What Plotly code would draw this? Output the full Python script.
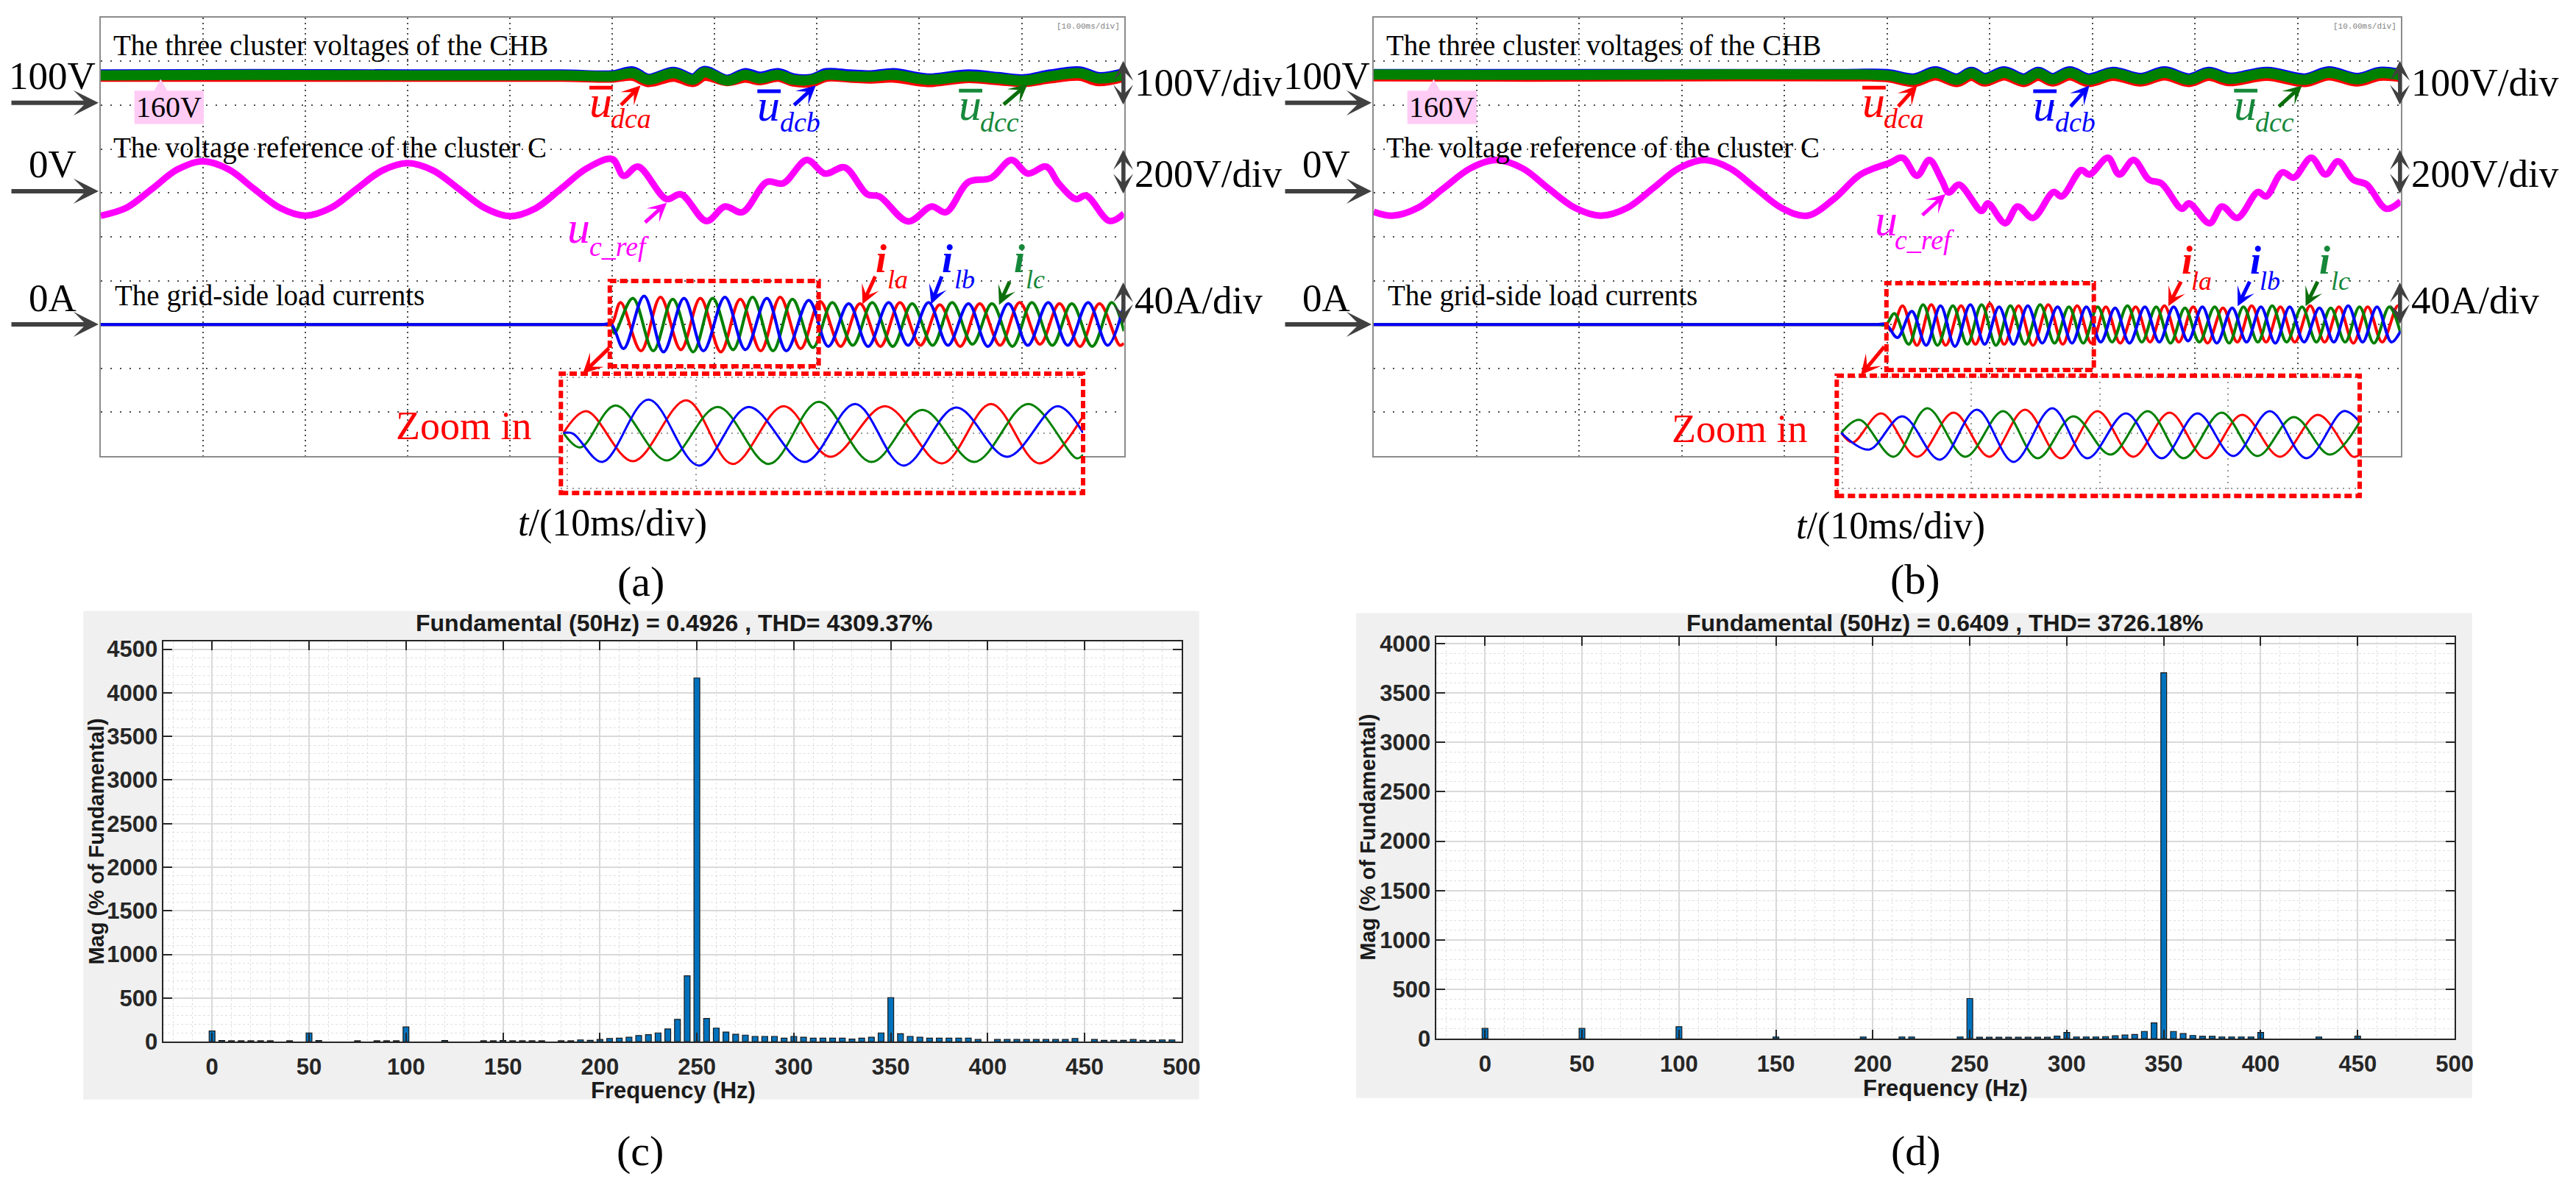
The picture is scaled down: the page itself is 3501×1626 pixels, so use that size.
import plotly.graph_objects as go

W, H = 3501, 1626
SERIF = "Liberation Serif"
SANS = "Liberation Sans"
RED, GREEN, BLUE, MAGENTA = "#ff0000", "#008000", "#0000ff", "#ff00ff"
LBLGREEN, DKGREEN, ARROWGREY = "#16883a", "#0a6e0a", "#404040"

# oscilloscope channels: level of the marker arrow (div) and units per div
UDC_MARK, UDC_DIV = 8.05, 100.0     # marker = 100 V, 100 V/div
UREF_MARK, UREF_DIV = 6.06, 200.0   # marker = 0 V, 200 V/div
I_MARK, I_DIV = 3.0, 40.0           # marker = 0 A, 40 A/div

# ---------------- (a) scope, time in div (10 ms/div) ----------------
udc_t_a = [0, 1.5, 3.0, 4.5, 5.00, 5.20, 5.35, 5.60, 5.79, 5.90, 6.12, 6.30, 6.44, 6.62,
           6.77, 6.95, 7.09, 7.32, 7.53, 7.75, 8.08, 8.48, 8.77, 9.02, 9.28, 9.57, 9.75, 10.0]
udca_a = [160, 160, 160, 160, 158, 162, 148, 160, 148, 162, 150, 158, 152, 160,
          149, 148, 160, 158, 156, 158, 148, 157, 152, 148, 156, 162, 150, 160]
udcb_a = [165, 166, 165, 165, 163, 172, 155, 171, 156, 173, 153, 168, 160, 168,
          156, 155, 168, 165, 163, 168, 156, 165, 159, 154, 165, 172, 159, 168]
udcc_a = [163, 164, 163, 163, 161, 168, 153, 168, 153, 170, 151, 164, 156, 164,
          153, 153, 164, 161, 160, 164, 153, 161, 156, 151, 161, 168, 156, 164]
uref_a = [(0, -116), (0.25, -80), (0.5, 6), (0.75, 95), (1.0, 132), (1.25, 95), (1.5, 6),
          (1.75, -80), (2.0, -116), (2.25, -80), (2.5, 6), (2.75, 90), (3.0, 124), (3.25, 90),
          (3.5, 6), (3.75, -80), (4.0, -118), (4.25, -82), (4.5, 8), (4.75, 100), (5.0, 142),
          (5.11, 66), (5.25, 108), (5.53, -40), (5.67, -18), (5.92, -140), (6.10, -74),
          (6.27, -100), (6.51, 38), (6.67, 32), (6.90, 138), (7.08, 76), (7.27, 104),
          (7.49, -18), (7.61, -28), (7.89, -142), (8.12, -74), (8.26, -100), (8.48, 38),
          (8.70, 56), (8.90, 138), (9.06, 76), (9.24, 108), (9.36, 32), (9.53, -40),
          (9.63, -24), (9.86, -140), (10.0, -106)]
ila_a = [(0, 0), (1, 0), (2, 0), (3, 0), (4, 0), (4.9, 0), (4.99, 0), (5.08, 20), (5.28, -24),
         (5.47, 25), (5.67, -23), (5.86, 24), (6.06, -25), (6.25, 23), (6.45, -24), (6.64, 25),
         (6.84, -22), (7.03, 21), (7.23, -20), (7.42, 19), (7.62, -20), (7.81, 20), (8.01, -19),
         (8.20, 18), (8.40, -20), (8.59, 19), (8.79, -19), (8.98, 20), (9.18, -18), (9.37, 19),
         (9.57, -20), (9.76, 19), (9.96, -19), (10.0, -17)]
ilb_a = [(0, 0), (1, 0), (2, 0), (3, 0), (4, 0), (4.9, 0), (4.99, 0), (5.11, -22), (5.31, 26),
         (5.50, -25), (5.70, 24), (5.89, -24), (6.10, 25), (6.30, -23), (6.51, 24), (6.70, -24),
         (6.92, 22), (7.11, -20), (7.31, 19), (7.50, -20), (7.70, 20), (7.89, -19), (8.09, 20),
         (8.28, -19), (8.48, 19), (8.67, -20), (8.87, 19), (9.06, -19), (9.26, 20), (9.45, -19),
         (9.65, 20), (9.84, -19), (10.0, 18)]
ilc_a = [(0, 0), (1, 0), (2, 0), (3, 0), (4, 0), (4.9, 0), (4.99, 0), (5.02, -8), (5.20, 24),
         (5.40, -24), (5.59, 23), (5.79, -25), (5.98, 24), (6.18, -23), (6.37, 25), (6.57, -24),
         (6.76, 23), (6.96, -21), (7.15, 20), (7.35, -19), (7.54, 20), (7.74, -20), (7.93, 19),
         (8.13, -19), (8.32, 20), (8.52, -18), (8.71, 19), (8.91, -20), (9.10, 20), (9.30, -19),
         (9.49, 19), (9.69, -20), (9.88, 20), (10.0, -6)]
# zoomed window of (a): time in zoom div (5 ms/div), current in A
zla_a = [(-0.03, 0), (0.148, 15.6), (0.511, -20.3), (0.926, 23.4), (1.284, -22.3), (1.682, 19.2),
         (2.045, -17.1), (2.472, 19.2), (2.915, -21.8), (3.295, 20.8), (3.670, -21.8), (4.011, 12.0)]
zlb_a = [(-0.03, 0), (0.045, -0.5), (0.273, -20.8), (0.631, 23.9), (1.023, -23.4), (1.409, 18.7),
         (1.847, -20.8), (2.239, 20.8), (2.614, -23.4), (3.023, 18.2), (3.420, -17.1),
         (3.813, 19.2), (4.011, 0.0)]
zlc_a = [(-0.03, 0), (0.102, -10.4), (0.375, 19.7), (0.773, -19.7), (1.170, 18.7), (1.568, -22.3),
         (1.955, 22.3), (2.364, -20.8), (2.761, 16.6), (3.165, -20.8), (3.585, 20.8),
         (3.960, -18.2), (4.011, -15.6)]

# ---------------- (b) scope ----------------
udc_t_b = [0, 1.5, 3.0, 4.6, 5.00, 5.26, 5.47, 5.68, 5.82, 5.95, 6.14, 6.33, 6.47, 6.61,
           6.78, 6.96, 7.20, 7.47, 7.70, 7.94, 8.13, 8.33, 8.70, 9.07, 9.30, 9.58, 9.80, 10.0]
udca_b = [161, 160, 161, 161, 159, 148, 163, 148, 162, 149, 163, 148, 162, 149,
          163, 148, 162, 149, 163, 148, 162, 150, 162, 148, 163, 149, 162, 159]
udcb_b = [166, 166, 166, 166, 166, 156, 172, 156, 171, 157, 172, 156, 171, 157,
          172, 156, 171, 157, 172, 156, 171, 158, 171, 156, 172, 157, 171, 166]
udcc_b = [165, 164, 165, 165, 163, 153, 169, 153, 168, 154, 169, 153, 168, 154,
          169, 153, 168, 154, 169, 153, 168, 155, 168, 153, 169, 154, 168, 163]
uref_b = [(0, -98), (0.18, -116), (0.43, -80), (0.68, 9), (0.94, 100), (1.19, 138), (1.45, 100),
          (1.70, 9), (1.96, -80), (2.21, -116), (2.47, -80), (2.72, 9), (2.97, 100), (3.22, 138),
          (3.47, 100), (3.72, 9), (3.97, -80), (4.22, -116), (4.48, -40), (4.74, 72), (5.02, 124),
          (5.15, 148), (5.29, 66), (5.41, 138), (5.53, 48), (5.60, -10), (5.70, 26), (5.92, -94),
          (5.98, -60), (6.15, -150), (6.27, -74), (6.42, -126), (6.62, -8), (6.70, -28),
          (6.89, 92), (6.97, 72), (7.15, 148), (7.26, 72), (7.40, 138), (7.55, 48), (7.67, 32),
          (7.87, -84), (7.94, -60), (8.14, -150), (8.26, -74), (8.41, -126), (8.61, -8),
          (8.69, -28), (8.85, 82), (8.96, 58), (9.13, 148), (9.27, 72), (9.39, 132), (9.54, 48),
          (9.67, 26), (9.86, -84), (10.0, -50)]
ila_b = [(0, 0), (1, 0), (2, 0), (3, 0), (4, 0), (4.9, 0), (4.99, 0), (5.04, -6), (5.15, 17),
         (5.29, -19), (5.43, 18), (5.57, -19), (5.72, 17), (5.86, -18), (6.00, 19), (6.14, -18),
         (6.28, 17), (6.42, -19), (6.57, 18), (6.71, -18), (6.85, 17), (6.99, -17), (7.13, 16),
         (7.27, -17), (7.42, 16), (7.56, -16), (7.70, 17), (7.84, -16), (7.98, 16), (8.12, -17),
         (8.27, 15), (8.41, -16), (8.55, 17), (8.69, -16), (8.83, 16), (8.97, -16), (9.12, 17),
         (9.26, -16), (9.40, 16), (9.54, -17), (9.68, 16), (9.82, -16), (9.97, 17), (10.0, 15)]
ilb_b = [(0, 0), (1, 0), (2, 0), (3, 0), (4, 0), (4.9, 0), (4.99, 0), (5.10, -12), (5.24, 12),
         (5.38, -19), (5.52, 17), (5.66, -20), (5.81, 18), (5.95, -18), (6.09, 16), (6.23, -18),
         (6.37, 17), (6.51, -17), (6.66, 16), (6.80, -17), (6.94, 16), (7.08, -16), (7.22, 15),
         (7.36, -17), (7.51, 16), (7.65, -16), (7.79, 16), (7.93, -15), (8.07, 16), (8.21, -17),
         (8.36, 15), (8.50, -16), (8.64, 16), (8.78, -17), (8.92, 16), (9.06, -16), (9.21, 15),
         (9.35, -16), (9.49, 17), (9.63, -16), (9.77, 16), (9.91, -16), (10.0, -6)]
ilc_b = [(0, 0), (1, 0), (2, 0), (3, 0), (4, 0), (4.9, 0), (4.99, 0), (5.07, 10), (5.21, -18),
         (5.35, 18), (5.49, -19), (5.64, 17), (5.78, -18), (5.92, 18), (6.06, -19), (6.20, 17),
         (6.34, -18), (6.49, 18), (6.63, -17), (6.77, 16), (6.91, -17), (7.05, 16), (7.19, -16),
         (7.34, 17), (7.48, -16), (7.62, 16), (7.76, -17), (7.90, 15), (8.04, -16), (8.19, 16),
         (8.33, -17), (8.47, 16), (8.61, -16), (8.75, 17), (8.89, -16), (9.04, 16), (9.18, -16),
         (9.32, 15), (9.46, -16), (9.60, 16), (9.74, -17), (9.89, 16), (10.0, -8)]
zla_b = [(-0.01, 0), (0.080, -6.8), (0.301, 14.0), (0.580, -17.1), (0.864, 14.5), (1.142, -17.1),
         (1.420, 16.6), (1.699, -18.2), (1.983, 15.6), (2.261, -17.1), (2.545, 14.5),
         (2.824, -18.2), (3.108, 13.0), (3.403, -17.1), (3.699, 13.0), (3.972, -17.1), (4.023, -15.6)]
zlb_b = [(-0.01, 0), (0.205, -12.0), (0.466, 11.9), (0.756, -19.2), (1.045, 16.6), (1.330, -20.8),
         (1.631, 17.7), (1.903, -18.2), (2.205, 14.0), (2.483, -18.2), (2.761, 14.0),
         (3.040, -16.6), (3.324, 15.6), (3.608, -18.2), (3.898, 15.6), (4.023, 7.8)]
zlc_b = [(-0.01, 0), (0.131, 9.4), (0.398, -17.1), (0.659, 17.7), (0.955, -17.1), (1.250, 15.6),
         (1.517, -18.2), (1.795, 11.9), (2.085, -15.6), (2.375, 15.6), (2.653, -18.2),
         (2.949, 14.5), (3.227, -16.6), (3.511, 11.4), (3.790, -15.6), (4.023, 7.8)]

# ---------------- (c), (d) FFT spectra: (Hz, % of fundamental) ----------------
fft_c = [(0, 122), (5, 12), (10, 10), (15, 10), (20, 10), (25, 10), (30, 10), (40, 10), (50, 100),
         (55, 12), (75, 10), (85, 10), (90, 10), (95, 10), (100, 168), (120, 12), (140, 10),
         (145, 10), (150, 12), (155, 10), (160, 10), (165, 10), (170, 10), (180, 10), (185, 10),
         (190, 20), (195, 15), (200, 25), (205, 35), (210, 40), (215, 50), (220, 70), (225, 80),
         (230, 100), (235, 145), (240, 255), (245, 755), (250, 4170), (255, 265), (260, 155),
         (265, 110), (270, 85), (275, 75), (280, 60), (285, 60), (290, 60), (295, 40), (300, 60),
         (305, 50), (310, 40), (315, 40), (320, 40), (325, 40), (330, 30), (335, 40), (340, 50),
         (345, 100), (350, 505), (355, 90), (360, 60), (365, 50), (370, 40), (375, 40), (380, 40),
         (385, 40), (390, 40), (395, 25), (405, 25), (410, 25), (415, 25), (420, 25), (425, 25),
         (430, 25), (435, 25), (440, 25), (445, 35), (455, 25), (460, 15), (465, 15), (470, 15),
         (475, 25), (480, 15), (485, 15), (490, 20), (495, 20)]
fft_d = [(0, 104), (50, 104), (100, 122), (150, 18), (195, 18), (215, 18), (220, 18), (245, 18),
         (250, 407), (255, 15), (260, 15), (265, 15), (270, 15), (275, 15), (280, 15), (285, 15),
         (290, 15), (295, 26), (300, 63), (305, 18), (310, 18), (315, 18), (320, 22), (325, 30),
         (330, 37), (335, 44), (340, 74), (345, 160), (350, 3704), (355, 74), (360, 52), (365, 33),
         (370, 25), (375, 25), (380, 18), (385, 18), (390, 18), (395, 18), (400, 63), (430, 18),
         (450, 26)]
title_c = "Fundamental (50Hz) = 0.4926 , THD= 4309.37%"
title_d = "Fundamental (50Hz) = 0.6409 , THD= 3726.18%"


def unzip(pairs):
    return [p[0] for p in pairs], [p[1] for p in pairs]


fig = go.Figure()
ann = []
shapes = []


def P(x, y):
    return x / W, 1 - y / H


def text(x, y, s, size, color="black", xa="center", fam=SERIF, angle=0):
    px, py = P(x, y)
    ann.append(dict(x=px, y=py, xref="paper", yref="paper", text=s, showarrow=False,
                    xanchor=xa, yanchor="middle", textangle=angle,
                    font=dict(family=fam, size=size, color=color)))


def base_text(x, base, s, size, color):
    text(x, base - 0.3375 * size, s, size, color, xa="left")


def arrow(x0, y0, x1, y1, color, width=5, size=0.8, both=False):
    px, py = P(x1, y1)
    ann.append(dict(x=px, y=py, xref="paper", yref="paper", ax=x0 - x1, ay=y0 - y1,
                    axref="pixel", ayref="pixel", text="", showarrow=True, arrowhead=3,
                    arrowsize=size, arrowwidth=width, arrowcolor=color,
                    startarrowhead=3, startarrowsize=size,
                    arrowside="end+start" if both else "end"))


def line(x0, y0, x1, y1, color, width):
    a, b = P(x0, y0)
    c, d = P(x1, y1)
    shapes.append(dict(type="line", xref="paper", yref="paper", x0=a, y0=b, x1=c, y1=d,
                       line=dict(color=color, width=width), layer="above"))


def rect(x0, y0, x1, y1, fill=None, dash=None, layer="above", lw=0, lc=None):
    a, b = P(x0, y1)
    c, d = P(x1, y0)
    s = dict(type="rect", xref="paper", yref="paper", x0=a, y0=b, x1=c, y1=d, layer=layer,
             line=dict(width=lw, color=lc or "rgba(0,0,0,0)"))
    if fill:
        s["fillcolor"] = fill
    if dash:
        s["line"]["dash"] = dash
    shapes.append(s)


def scope_traces(xa, ya, t, ua, ub, uc, uref, ia, ib, ic):
    for vals, col in ((ua, RED), (ub, BLUE), (uc, GREEN)):
        fig.add_trace(go.Scatter(x=t, y=[UDC_MARK + (v - 100) / UDC_DIV for v in vals],
                                 mode="lines", line=dict(color=col, width=14, shape="spline"),
                                 xaxis=xa, yaxis=ya))
    tt, vv = unzip(uref)
    fig.add_trace(go.Scatter(x=tt, y=[UREF_MARK + v / UREF_DIV for v in vv], mode="lines",
                             line=dict(color=MAGENTA, width=9, shape="spline"),
                             xaxis=xa, yaxis=ya))
    for pairs, col in ((ia, RED), (ic, GREEN), (ib, BLUE)):
        tt, vv = unzip(pairs)
        fig.add_trace(go.Scatter(x=tt, y=[I_MARK + v / I_DIV for v in vv], mode="lines",
                                 line=dict(color=col, width=4, shape="spline"),
                                 xaxis=xa, yaxis=ya))


def zoom_traces(xa, ya, za, zb, zc):
    for pairs, col in ((za, RED), (zc, GREEN), (zb, BLUE)):
        tt, vv = unzip(pairs)
        fig.add_trace(go.Scatter(x=tt, y=vv, mode="lines",
                                 line=dict(color=col, width=3, shape="spline"),
                                 xaxis=xa, yaxis=ya))


scope_traces("x", "y", udc_t_a, udca_a, udcb_a, udcc_a, uref_a, ila_a, ilb_a, ilc_a)
scope_traces("x2", "y2", udc_t_b, udca_b, udcb_b, udcc_b, uref_b, ila_b, ilb_b, ilc_b)
zoom_traces("x3", "y3", zla_a, zlb_a, zlc_a)
zoom_traces("x4", "y4", zla_b, zlb_b, zlc_b)

for pairs, xa, ya in ((fft_c, "x5", "y5"), (fft_d, "x6", "y6")):
    hz, mag = unzip(pairs)
    fig.add_trace(go.Bar(x=hz, y=mag, width=3, xaxis=xa, yaxis=ya,
                         marker=dict(color="#0072bd", line=dict(color="#1a1a1a", width=1.2))))

# ---------------- axes ----------------
layout = {}


def dom(x0, x1, y0, y1):
    return [x0 / W, x1 / W], [1 - y1 / H, 1 - y0 / H]


def scope_axes(n, x0, x1):
    xd, yd = dom(x0, x1, 16, 622)
    sfx = "" if n == 1 else str(n)
    common = dict(range=[0, 10], tickvals=list(range(1, 10)), showticklabels=False, ticks="",
                  showgrid=True, gridcolor="#4d4d4d", gridwidth=2, zeroline=False,
                  showline=True, mirror=True, linecolor="#8c8c8c", linewidth=2)
    layout["xaxis" + sfx] = dict(domain=xd, anchor="y" + sfx, griddash="2px,5px", **common)
    layout["yaxis" + sfx] = dict(domain=yd, anchor="x" + sfx, griddash="2px,11px", **common)


def zoom_axes(n, x0, x1, y0, y1, xr, yr):
    xd, yd = dom(x0, x1, y0, y1)
    sfx = str(n)
    common = dict(showticklabels=False, ticks="", showgrid=True, gridcolor="#9a9a9a",
                  gridwidth=1.5, griddash="2px,6px", zeroline=False, showline=False)
    layout["xaxis" + sfx] = dict(domain=xd, anchor="y" + sfx, range=xr, tickvals=[0, 1, 2, 3],
                                 **common)
    layout["yaxis" + sfx] = dict(domain=yd, anchor="x" + sfx, range=yr, tickvals=[-40, 0, 40],
                                 **common)
    shapes.append(dict(type="rect", xref="x" + sfx, yref="y" + sfx, x0=xr[0], x1=xr[1],
                       y0=yr[0], y1=yr[1], fillcolor="white", line=dict(width=0),
                       layer="below"))


def fft_axes(n, x0, x1, y0, y1, ytop, ymax):
    xd, yd = dom(x0, x1, y0, y1)
    sfx = str(n)
    font = dict(family=SANS, size=31, color="#262626", weight="bold")
    common = dict(ticks="inside", ticklen=12, tickwidth=2, tickcolor="#262626",
                  showline=True, mirror="ticks", linecolor="#262626", linewidth=2,
                  showgrid=True, gridcolor="#d9d9d9", gridwidth=2, zeroline=False,
                  tickfont=font)
    layout["xaxis" + sfx] = dict(domain=xd, anchor="y" + sfx, range=[-25, 500],
                                 tickvals=list(range(0, 501, 50)), ticklabelstandoff=6,
                                 minor=dict(tick0=0, dtick=10, showgrid=True, gridcolor="#e0e0e0",
                                            griddash="dot", gridwidth=1),
                                 **common)
    layout["yaxis" + sfx] = dict(domain=yd, anchor="x" + sfx, range=[0, ytop],
                                 tickvals=list(range(0, ymax + 1, 500)),
                                 minor=dict(tick0=0, dtick=100, showgrid=True, gridcolor="#e0e0e0",
                                            griddash="dot", gridwidth=1),
                                 **common)


scope_axes(1, 138, 1539)
scope_axes(2, 1881, 3287)
zoom_axes(3, 768, 1483, 508, 673, [-0.05, 4.011], [-43.1, 42.6])
zoom_axes(4, 2515, 3231, 511, 677, [-0.045, 4.023], [-45.2, 41.0])
fft_axes(5, 224, 1618, 878, 1431, 4590, 4500)
fft_axes(6, 1967, 3361, 872, 1427, 4066, 4000)

# ---------------- scope decorations ----------------
def scope_labels(bx0, bx1, lc, rl, labels):
    text(bx0 + 15, 55, "The three cluster voltages of the CHB", 39, xa="left")
    text(bx0 + 15, 196, "The voltage reference of the cluster C", 39, xa="left")
    text(bx0 + 17, 400, "The grid-side load currents", 39, xa="left")
    text(bx1 - 4, 28, "[10.00ms/div]", 11, "#7f7f7f", xa="right", fam="Liberation Mono")
    # channel markers on the left
    for s, ty, ay in (("100V", 97, 134), ("0V", 218, 256), ("0A", 403, 440)):
        text(lc, ty, s, 53)
        arrow(lc - 57, ay, bx0 - 3, ay, ARROWGREY, width=6, size=0.95)
    # scale bars on the right
    for s, ty, y0, y1 in (("100V/div", 106, 76, 137), ("200V/div", 232, 199, 260),
                          ("40A/div", 407, 382, 440)):
        text(rl, ty, s, 53, xa="left")
        arrow(bx1 - 1, y1, bx1 - 1, y0, ARROWGREY, width=5, size=0.9, both=True)
    # 160 V callout
    rect(bx0 + 46, 117, bx0 + 141, 163, fill="#ffccf5")
    a, b = P(bx0 + 73, 117)
    c, d = P(bx0 + 82, 101)
    e, f = P(bx0 + 91, 117)
    shapes.append(dict(type="path", xref="paper", yref="paper",
                       path=f"M {a},{b} L {c},{d} L {e},{f} Z", fillcolor="#ffccf5",
                       line=dict(width=0), layer="above"))
    text(bx0 + 93, 140, "160V", 40)
    for kind, x, base, sx, sbase, sub, col, acol, tail, head in labels:
        if kind == "u":
            line(x + 2, base - 40, x + 34, base - 40, col, 5)
            base_text(x, base, "<i>u</i>", 62, col)
            base_text(sx, sbase, f"<i>{sub}</i>", 38, col)
        elif kind == "r":
            base_text(x, base, "<i>u</i>", 62, col)
            base_text(sx, sbase, f"<i>{sub}</i>", 38, col)
        else:
            base_text(x, base, "<b><i>i</i></b>", 54, col)
            base_text(sx, sbase, f"<i>{sub}</i>", 36, col)
        arrow(tail[0], tail[1], head[0], head[1], acol, width=5, size=0.85)


labels_a = [
    ("u", 805, 153, 834, 168, "dca", RED, RED, (849, 138), (877, 110)),
    ("u", 1035, 158, 1066, 173, "dcb", BLUE, BLUE, (1086, 138), (1117, 110)),
    ("u", 1311, 157, 1340, 173, "dcc", LBLGREEN, DKGREEN, (1373, 137), (1407, 108)),
    ("r", 775, 327, 805, 345, "c_ref", MAGENTA, MAGENTA, (882, 300), (913, 272)),
    ("i", 1197, 368, 1213, 390, "la", RED, RED, (1199, 373), (1181, 412)),
    ("i", 1288, 368, 1305, 390, "lb", BLUE, BLUE, (1290, 373), (1275, 412)),
    ("i", 1386, 368, 1402, 390, "lc", LBLGREEN, DKGREEN, (1383, 380), (1368, 413)),
]
labels_b = [
    ("u", 2548, 153, 2577, 168, "dca", RED, RED, (2598, 140), (2625, 110)),
    ("u", 2782, 158, 2812, 173, "dcb", BLUE, BLUE, (2834, 140), (2861, 110)),
    ("u", 3057, 157, 3086, 173, "dcc", LBLGREEN, DKGREEN, (3119, 140), (3152, 110)),
    ("r", 2565, 317, 2592, 336, "c_ref", MAGENTA, MAGENTA, (2631, 290), (2664, 260)),
    ("i", 2985, 370, 2998, 392, "la", RED, RED, (2987, 380), (2969, 415)),
    ("i", 3079, 370, 3092, 392, "lb", BLUE, BLUE, (3081, 380), (3064, 415)),
    ("i", 3174, 370, 3190, 392, "lc", LBLGREEN, DKGREEN, (3174, 380), (3157, 415)),
]
scope_labels(138, 1539, 72, 1552, labels_a)
scope_labels(1881, 3287, 1816, 3300, labels_b)

# zoom boxes and arrows
dash = "10px,5px"
rect(835, 380, 1121, 498, dash=dash, lw=6, lc=RED)
rect(768, 508, 1483, 673, dash=dash, lw=6, lc=RED)
arrow(835, 472, 798, 508, RED, width=5, size=0.9)
rect(2583, 383, 2867, 503, dash=dash, lw=6, lc=RED)
rect(2515, 511, 3231, 677, dash=dash, lw=6, lc=RED)
arrow(2581, 470, 2548, 510, RED, width=5, size=0.9)
text(635, 580, "Zoom in", 54, RED)
text(2382, 584, "Zoom in", 54, RED)
text(839, 714, "<i>t</i>/(10ms/div)", 52)
text(2589, 718, "<i>t</i>/(10ms/div)", 52)
text(878, 795, "(a)", 58)
text(2622, 792, "(b)", 58)

# ---------------- FFT panel frames and texts ----------------
rect(114, 836, 1642, 1511, fill="#f0f0f0", layer="below")
rect(224, 878, 1618, 1431, fill="white", layer="below")
rect(1857, 839, 3385, 1509, fill="#f0f0f0", layer="below")
rect(1967, 872, 3361, 1427, fill="white", layer="below")
text(923, 853, f"<b>{title_c}</b>", 32, "#1a1a1a", fam=SANS)
text(2663, 853, f"<b>{title_d}</b>", 32, "#1a1a1a", fam=SANS)
text(132, 1155, "<b>Mag (% of Fundamental)</b>", 29, "#1a1a1a", fam=SANS, angle=-90)
text(1873, 1149, "<b>Mag (% of Fundamental)</b>", 29, "#1a1a1a", fam=SANS, angle=-90)
text(922, 1498, "<b>Frequency (Hz)</b>", 31, "#1a1a1a", fam=SANS)
text(2664, 1495, "<b>Frequency (Hz)</b>", 31, "#1a1a1a", fam=SANS)
text(877, 1582, "(c)", 58)
text(2623, 1582, "(d)", 58)

fig.update_layout(width=W, height=H, margin=dict(l=0, r=0, t=0, b=0),
                  paper_bgcolor="white", plot_bgcolor="white", showlegend=False,
                  annotations=ann, shapes=shapes, **layout)
# the page body has a default 8px margin; drop it so the figure fills the window exactly
fig.write_html("out.html", config={"displayModeBar": False},
               post_script="document.body.style.margin = '0';")
